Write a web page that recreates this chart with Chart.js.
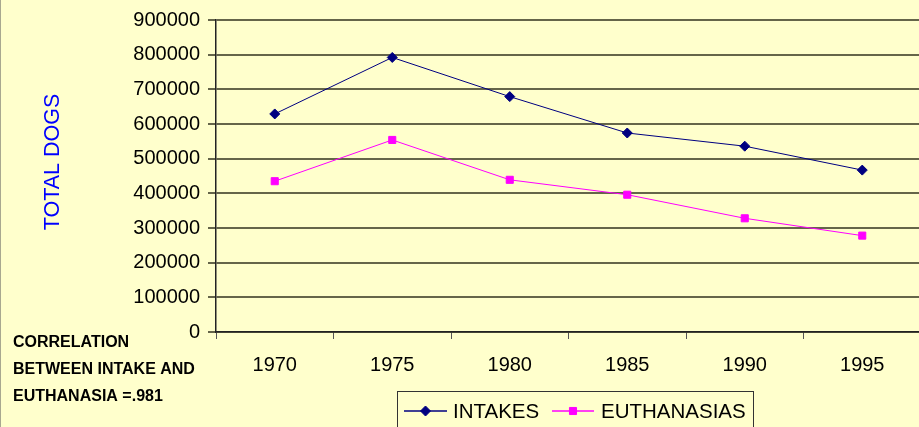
<!DOCTYPE html>
<html><head><meta charset="utf-8">
<script src="https://cdn.jsdelivr.net/npm/chart.js@4.4.1/dist/chart.umd.min.js"></script>
<style>
html,body{margin:0;padding:0;overflow:hidden;background:#FFFFCC;}
canvas{display:block;}
</style></head><body>
<canvas id="c" width="927" height="427" style="width:927px;height:427px"></canvas>
<script>
const categories = ['1970', '1975', '1980', '1985', '1990', '1995'];
const intakes = [629000, 792000, 679000, 574000, 536000, 467000];
const euthanasias = [435000, 554000, 439000, 396000, 328000, 278000];
const yTickLabels = ['0', '100000', '200000', '300000', '400000', '500000', '600000', '700000', '800000', '900000'];
const seriesNames = ['INTAKES', 'EUTHANASIAS'];
const yAxisTitle = 'TOTAL DOGS';
const noteLines = ['CORRELATION', 'BETWEEN INTAKE AND', 'EUTHANASIA =.981'];

const FONT = '"Liberation Sans", Arial, sans-serif';

function drawMarker(ctx, style, x, y, r, color) {
  ctx.fillStyle = color;
  ctx.strokeStyle = color;
  ctx.lineWidth = 1;
  ctx.beginPath();
  if (style === 'rectRot') {
    ctx.moveTo(x - r, y); ctx.lineTo(x, y - r); ctx.lineTo(x + r, y); ctx.lineTo(x, y + r);
  } else {
    const s = Math.SQRT1_2 * r;
    ctx.rect(x - s, y - s, 2 * s, 2 * s);
  }
  ctx.closePath();
  ctx.fill();
  ctx.stroke();
}

const decor = {
  id: 'decor',
  beforeDraw(chart) {
    const ctx = chart.ctx;
    ctx.save();
    ctx.fillStyle = '#FFFFCC';
    ctx.fillRect(0, 0, chart.width, chart.height);
    ctx.fillStyle = '#a8a890';
    ctx.fillRect(0, 0, 1, chart.height);
    ctx.restore();
  },
  afterDraw(chart) {
    const ctx = chart.ctx;
    // y axis title
    ctx.save();
    ctx.translate(53, 162);
    ctx.rotate(-Math.PI / 2);
    ctx.font = '21.5px ' + FONT;
    ctx.fillStyle = '#0000FF';
    ctx.textAlign = 'center';
    ctx.textBaseline = 'middle';
    ctx.fillText(yAxisTitle, 0, 0);
    ctx.restore();

    // correlation note
    ctx.save();
    ctx.font = 'bold 16px ' + FONT;
    ctx.fillStyle = '#000';
    ctx.textAlign = 'left';
    ctx.textBaseline = 'middle';
    noteLines.forEach((t, i) => ctx.fillText(t, 13, 343 + i * 27));
    ctx.restore();

    // legend
    ctx.save();
    ctx.strokeStyle = '#333';
    ctx.lineWidth = 1;
    ctx.strokeRect(397.5, 391.5, 356, 40);
    const items = [
      {x0: 404, x1: 447, tx: 453},
      {x0: 552, x1: 594, tx: 601}
    ];
    const ly = 411;
    chart.data.datasets.forEach((ds, i) => {
      const it = items[i];
      ctx.strokeStyle = ds.borderColor;
      ctx.lineWidth = 1.5;
      ctx.beginPath();
      ctx.moveTo(it.x0, ly);
      ctx.lineTo(it.x1, ly);
      ctx.stroke();
      drawMarker(ctx, ds.pointStyle, (it.x0 + it.x1) / 2, ly, ds.pointRadius, ds.pointBackgroundColor);
      ctx.font = '20.5px ' + FONT;
      ctx.fillStyle = '#000';
      ctx.textAlign = 'left';
      ctx.textBaseline = 'middle';
      ctx.fillText(ds.label, it.tx, ly + 1);
    });
    ctx.restore();
  }
};

new Chart(document.getElementById('c'), {
  type: 'line',
  data: {
    labels: categories,
    datasets: [
      {
        label: seriesNames[0],
        data: intakes,
        borderColor: '#000080',
        borderWidth: 1,
        pointStyle: 'rectRot',
        pointRadius: 5,
        pointBorderWidth: 1,
        pointBackgroundColor: '#000080',
        pointBorderColor: '#000080',
        tension: 0
      },
      {
        label: seriesNames[1],
        data: euthanasias,
        borderColor: '#FF00FF',
        borderWidth: 1,
        pointStyle: 'rect',
        pointRadius: 5,
        pointBorderWidth: 1,
        pointBackgroundColor: '#FF00FF',
        pointBorderColor: '#FF00FF',
        tension: 0
      }
    ]
  },
  options: {
    responsive: false,
    animation: false,
    layout: {padding: {top: 19, left: 0, right: 0, bottom: 0}},
    plugins: {legend: {display: false}, tooltip: {enabled: false}},
    scales: {
      x: {
        offset: true,
        grid: {offset: true, drawOnChartArea: false, tickLength: 7, color: '#555', lineWidth: 1},
        border: {display: true, color: '#222', width: 1.5},
        ticks: {color: '#000', font: {family: FONT, size: 20}, padding: 14, maxRotation: 0},
        afterFit(scale) { scale.height = 95; }
      },
      y: {
        min: 0, max: 900000,
        ticks: {
          stepSize: 100000,
          color: '#000',
          font: {family: FONT, size: 20},
          padding: 8,
          callback: (v, i) => yTickLabels[i]
        },
        grid: {color: 'rgba(50,50,30,0.75)', lineWidth: 2, tickLength: 8},
        border: {display: true, color: '#222', width: 1.5},
        afterFit(scale) { scale.width = 216; }
      }
    }
  },
  plugins: [decor]
});
</script>
</body></html>
